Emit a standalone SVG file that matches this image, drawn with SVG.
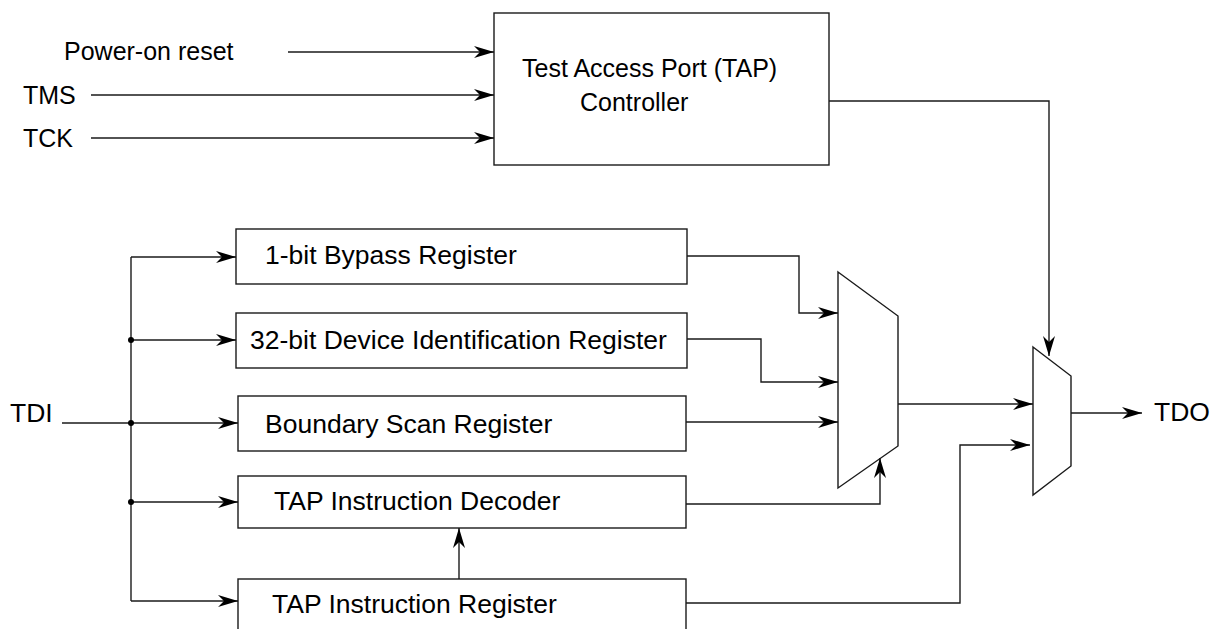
<svg xmlns="http://www.w3.org/2000/svg" width="1211" height="629" viewBox="0 0 1211 629">
<style>
.box{fill:#fff;stroke:#1a1a1a;stroke-width:1.4}
.w{fill:none;stroke:#1a1a1a;stroke-width:1.4}
.a{marker-end:url(#arr)}
.t{font-family:"Liberation Sans",Arial,sans-serif;font-size:26.5px;fill:#000}
.u{font-family:"Liberation Sans",Arial,sans-serif;font-size:25px;fill:#000}
.dot{fill:#000}
</style>
<defs>
<marker id="arr" markerUnits="userSpaceOnUse" viewBox="0 0 20 12" refX="20" refY="6" markerWidth="20" markerHeight="12" orient="auto">
<path d="M0,0 L20,6 L0,12 L6,6 Z" fill="#000"/>
</marker>
</defs>
<rect width="1211" height="629" fill="#fff"/>

<g id="tap-controller">
<rect class="box" x="494" y="13" width="335" height="152"/>
<text class="u" x="522" y="77">Test Access Port (TAP)</text>
<text class="u" x="580" y="111">Controller</text>
</g>

<g id="bypass">
<rect class="box" x="236" y="229" width="451" height="55"/>
<text class="t" x="265" y="264">1-bit Bypass Register</text>
</g>
<g id="device-id">
<rect class="box" x="236" y="313" width="451" height="55"/>
<text class="t" x="250" y="349">32-bit Device Identification Register</text>
</g>
<g id="boundary">
<rect class="box" x="238" y="396" width="448" height="55"/>
<text class="t" x="265" y="433">Boundary Scan Register</text>
</g>
<g id="decoder">
<rect class="box" x="238" y="476" width="448" height="52"/>
<text class="t" x="274" y="510">TAP Instruction Decoder</text>
</g>
<g id="instr-register">
<rect class="box" x="238" y="579" width="448" height="70"/>
<text class="t" x="272" y="613">TAP Instruction Register</text>
</g>

<g id="mux1">
<polygon class="box" points="838,272 898,316 898,446 838,488"/>
</g>
<g id="mux2">
<polygon class="box" points="1033,347 1071,376 1071,466 1033,495"/>
</g>

<g id="labels">
<text class="u" x="64" y="60">Power-on reset</text>
<text class="u" x="23" y="104">TMS</text>
<text class="u" x="23" y="147">TCK</text>
<text class="t" x="10" y="422">TDI</text>
<text class="t" x="1154" y="421">TDO</text>
</g>

<g id="connectors">
<path class="w a" d="M288,52 H494"/>
<path class="w a" d="M91,95 H494"/>
<path class="w a" d="M91,138 H494"/>
<path class="w a" d="M829,101 H1049 V356"/>
<path class="w" d="M62,423 H131"/>
<path class="w" d="M131,257 V601"/>
<path class="w a" d="M131,257 H236"/>
<path class="w a" d="M131,340 H236"/>
<path class="w a" d="M131,423 H238"/>
<path class="w a" d="M131,502 H238"/>
<path class="w a" d="M131,601 H238"/>
<circle class="dot" cx="131" cy="340" r="3"/>
<circle class="dot" cx="131" cy="423" r="3"/>
<circle class="dot" cx="131" cy="502" r="3"/>
<path class="w a" d="M687,256 H799 V313 H838"/>
<path class="w a" d="M687,339 H761 V382 H838"/>
<path class="w a" d="M686,422 H838"/>
<path class="w a" d="M686,504 H880 V458"/>
<path class="w a" d="M459,579 V528"/>
<path class="w a" d="M898,404 H1033"/>
<path class="w a" d="M686,603 H960 V445 H1030"/>
<path class="w a" d="M1071,413 H1142"/>
</g>
</svg>
